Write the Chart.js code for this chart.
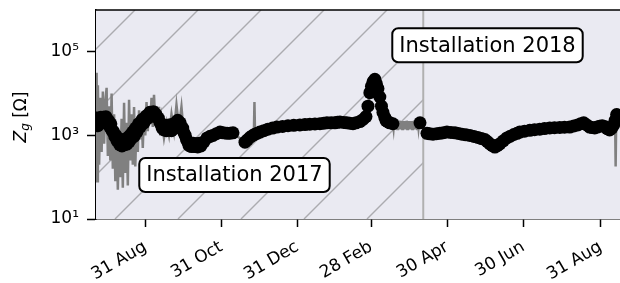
<!DOCTYPE html>
<html>
<head>
<meta charset="UTF-8">
<title>Grounding impedance</title>
<script src="https://cdn.jsdelivr.net/npm/chart.js@4.4.1/dist/chart.umd.min.js"></script>
<style>
  html, body { margin: 0; padding: 0; background: #fff; }
  #wrap { width: 620px; height: 283px; }
</style>
</head>
<body>
<div id="wrap"><canvas id="c" width="620" height="283"></canvas></div>
<script>
// days counted from 31 Aug 2017
const xTickDays = [0, 61, 122, 181, 242, 303, 365];
const xTickLabels = ['31 Aug', '31 Oct', '31 Dec', '28 Feb', '30 Apr', '30 Jun', '31 Aug'];
const yTickValues = [10, 1000, 100000];
const yTickLabels = ['10\u00b9', '10\u00b3', '10\u2075'];

// day of the 2018 installation (vertical line)
const install2018Day = 222.8;

// raw measurements (grey line)
const rawDays = [
  -39.5, -39, -38.5, -38, -37, -36, -35, -34, -33, -32, -31, -30, -29, -28, -27, -26,
  -25, -24, -23, -22, -21, -20, -19, -18, -17, -16, -15, -14, -13, -12, -11, -10,
  -9, -8, -7, -6, -5, -4, -3, -2, -1, 0, 1, 2, 3, 4, 5, 6, 7, 8, 9, 10, 11, 12, 13,
  15, 17, 19, 21, 23, 25, 27, 29, 31, 33, 35, 37, 40, 43, 46, 50, 55, 60, 65, 70,
  80, 84, 87, 87.5, 88, 92, 100, 110, 120, 130, 140, 150, 160, 167, 172, 176,
  178.5, 180, 182, 184, 186, 188, 190, 193, 196, 198.5,
  199, 199.5, 200, 200.5, 201, 201.5, 202, 202.5, 203, 203.5, 204, 204.5, 205, 205.5,
  206, 206.5, 207, 207.5, 208, 208.5, 209, 209.5, 210, 210.5, 211, 211.5, 212, 212.5,
  213, 213.5, 214, 214.5, 215, 215.5, 216, 216.5, 217, 217.5, 218, 218.5, 219, 219.5, 220,
  226, 235, 245, 255, 265, 272, 276, 280, 284, 290, 300, 310, 320, 330, 340, 347,
  351, 356, 364, 372, 375, 376.5, 377, 377.5, 378
];
const rawOhm = [
  2000, 31600, 80, 15800, 200, 7900, 400, 11200, 630, 6300, 13800, 320, 5000, 250, 10000, 160,
  3200, 80, 1600, 50, 1260, 100, 2500, 56, 6000, 126, 2000, 63, 7100, 250, 3200, 200,
  4800, 180, 2500, 400, 4000, 800, 3200, 500, 4000, 1000, 6300, 1260, 5000, 2000, 7900, 1600, 9300, 2000, 5000, 1600, 4800, 1000, 2500,
  870, 2000, 1000, 3200, 1260, 5400, 1600, 4800, 1000, 1260, 560, 800, 560, 700, 630, 890, 1000, 1200, 1120, 1150,
  690, 890, 1000, 6300, 1000, 1200, 1450, 1640, 1750, 1850, 1900, 2000, 2000, 1900, 2140, 2600,
  5000, 10500, 17800, 21000, 15000, 8300, 3800, 2240, 2000, 1900,
  1450, 2200, 1400, 2150, 1480, 2200, 1420, 2100, 1450, 2250, 1400, 2150, 1480, 2200,
  1420, 2100, 1450, 2200, 1400, 2150, 1480, 2250, 1420, 2100, 1450, 2200, 1400, 2150,
  1480, 2200, 1420, 2100, 1450, 2250, 1400, 2150, 1480, 2200, 1420, 2100, 1500, 2100, 2000,
  1120, 1110, 1180, 1050, 900, 800, 630, 525, 630, 870, 1200, 1340, 1460, 1540, 1580, 1780,
  2000, 1580, 1660, 1350, 1780, 3980, 180, 2800, 3160
];

// filtered values (black markers)
const filtDays = [
  -39.2, -38.7, -38, -37.2, -36.5, -35.6, -34.7, -33.8, -32.5, -31.6, -30.7, -29.6, -28.5, -27.6,
  -26.7, -25.6, -24.5, -23.6, -22.7, -21.6, -20.5, -19.6, -18.7, -17.6, -16.5, -15.6, -14.7, -13.8,
  -13, -12.2, -11.5, -10.2, -9, -7.8, -6.7, -5.4, -4, -2.5, -1, 0.6, 2.2, 3.8, 5.4, 6.5, 7.5, 8.5,
  9.4, 10.5, 11.8, 12.6, 13.5, 14.2, 15, 16, 17, 18, 19, 20, 21, 22, 23, 24, 25, 26, 27, 28, 29, 30,
  31, 32, 33, 34, 35, 36, 37, 38.5, 39.8, 41, 42, 43.3, 44.6,
  47, 49.5, 52, 54.3, 57, 59.9, 62.5, 65.5, 68, 70.3,
  79.9, 81.8, 83.8, 85.8, 87.9, 89.9, 91.9, 95, 98.3, 102, 105.5, 110, 114.4, 119, 123.9, 128, 131.9,
  136, 140, 143, 145.6, 149, 152, 154, 156, 159, 161.6, 164, 166.5, 169, 172, 174.5, 176.9, 178.5,
  180, 181.3, 182.5, 184, 185.3, 186.5, 188, 189.3, 190.5, 192, 193, 194.5, 196, 198.5,
  220.2,
  225.8, 228, 230.6, 233.5, 236.2, 239, 241.8, 245, 248.2, 251, 253.8, 257, 260.2, 263.5, 266.6, 269.5,
  272.2, 274.2, 276.2, 278.2, 280.2, 282.2, 284.2, 287, 289.8, 292.6, 295.4, 298, 300.2, 304, 308.2,
  312, 316.2, 320, 324.2, 328, 332.2, 336, 340.2, 343.5, 346.6, 349, 351.4, 353.8, 356.2, 358.2,
  360.2, 362.2, 364.2, 366.2, 368.2, 370.2, 372.2, 374, 375.4, 376.6, 377.8
];
const filtOhm = [
  1800, 2600, 1700, 2400, 1900, 2700, 2000, 2700, 2100, 2800, 2100, 2300, 1600, 1900,
  1300, 1250, 950, 1000, 750, 800, 600, 760, 560, 800, 600, 820, 620, 900,
  700, 1000, 820, 1200, 950, 1500, 1200, 1900, 1600, 2400, 2000, 2900, 2600, 3600, 3200, 3700, 3000, 3200,
  2700, 2600, 2000, 1900, 1500, 1800, 1350, 1700, 1300, 1750, 1400, 1800, 1300, 1750, 1450, 2000, 1650, 2300, 1800, 2000, 1450, 1500,
  1150, 1000, 800, 700, 580, 640, 540, 650, 540, 630, 530, 650, 560,
  700, 870, 950, 1000, 1100, 1200, 1150, 1120, 1130, 1150,
  690, 780, 890, 980, 1070, 1130, 1200, 1300, 1410, 1500, 1580, 1640, 1700, 1740, 1780, 1820, 1860,
  1880, 1900, 1950, 2000, 2000, 2000, 2050, 2090, 2040, 2000, 1950, 1900, 2000, 2140, 2400, 2820, 5000,
  10500, 15000, 19000, 22000, 17000, 13200, 8300, 5000, 3550, 2700, 2240, 2100, 2000, 1900,
  2000,
  1120, 1090, 1070, 1100, 1120, 1160, 1200, 1180, 1150, 1110, 1070, 1030, 1000, 940, 890, 840,
  795, 710, 630, 570, 525, 570, 630, 740, 870, 960, 1050, 1120, 1200, 1260, 1320,
  1370, 1410, 1460, 1510, 1530, 1550, 1570, 1580, 1680, 1780, 1900, 2000, 1780, 1580, 1540,
  1510, 1580, 1660, 1700, 1640, 1450, 1350, 1500, 1780, 2300, 3160
];

const notes = [
  { text: 'Installation 2017', day: 71.5, ohm: 113 },
  { text: 'Installation 2018', day: 274.3, ohm: 143000 }
];

const rawPoints = rawDays.map((d, i) => ({ x: d, y: rawOhm[i] }));
const filtPoints = filtDays.map((d, i) => ({ x: d, y: filtOhm[i] }));

const FONT = 'DejaVu Sans';

// background, hatching, vertical line, top spine, labels
const decor = {
  id: 'decor',
  beforeDatasetsDraw(chart) {
    const { ctx, chartArea: a, scales } = chart;
    const vx = scales.x.getPixelForValue(install2018Day);
    ctx.save();
    ctx.fillStyle = '#eaeaf2';
    ctx.fillRect(a.left, a.top, a.right - a.left, a.bottom - a.top);

    // hatched 2017 period
    ctx.beginPath();
    ctx.rect(a.left, a.top, vx - a.left, a.bottom - a.top);
    ctx.clip();
    ctx.strokeStyle = '#ababb0';
    ctx.lineWidth = 1.4;
    const h = a.bottom - a.top;
    for (let x0 = a.left + 19 - 63 * 6; x0 < vx + 63; x0 += 63) {
      ctx.beginPath();
      ctx.moveTo(x0, a.bottom);
      ctx.lineTo(x0 + h, a.top);
      ctx.stroke();
    }
    ctx.restore();

    ctx.save();
    ctx.strokeStyle = '#b0b0b0';
    ctx.lineWidth = 2;
    ctx.beginPath();
    ctx.moveTo(vx, a.top);
    ctx.lineTo(vx, a.bottom);
    ctx.stroke();
    ctx.restore();
  },
  afterDatasetsDraw(chart) {
    const { ctx, chartArea: a, scales } = chart;
    ctx.save();
    ctx.strokeStyle = '#000';
    ctx.lineWidth = 1.5;
    ctx.beginPath();
    ctx.moveTo(a.left, a.top);
    ctx.lineTo(a.right, a.top);
    ctx.stroke();

    // text boxes
    ctx.font = '21px "' + FONT + '"';
    ctx.textAlign = 'center';
    ctx.textBaseline = 'middle';
    notes.forEach(n => {
      const cx = scales.x.getPixelForValue(n.day);
      const cy = scales.y.getPixelForValue(n.ohm);
      const w = ctx.measureText(n.text).width + 14;
      const bh = 34;
      ctx.beginPath();
      ctx.roundRect(cx - w / 2, cy - bh / 2, w, bh, 6);
      ctx.fillStyle = '#fff';
      ctx.fill();
      ctx.lineWidth = 2;
      ctx.strokeStyle = '#000';
      ctx.stroke();
      ctx.fillStyle = '#000';
      ctx.fillText(n.text, cx, cy + 1);
    });

    // y axis title: Z_g [Ω]
    ctx.translate(20, 117);
    ctx.rotate(-Math.PI / 2);
    ctx.textAlign = 'left';
    ctx.textBaseline = 'alphabetic';
    const big = 'italic 17px "' + FONT + '"';
    const small = 'italic 12px "' + FONT + '"';
    const reg = '17px "' + FONT + '"';
    ctx.font = big; const wZ = ctx.measureText('Z').width;
    ctx.font = small; const wg = ctx.measureText('g').width;
    ctx.font = reg; const wR = ctx.measureText(' [\u03a9]').width;
    let x = -(wZ + wg + wR) / 2;
    const base = 6;
    ctx.fillStyle = '#000';
    ctx.font = big; ctx.fillText('Z', x, base); x += wZ;
    ctx.font = small; ctx.fillText('g', x, base + 3); x += wg;
    ctx.font = reg; ctx.fillText(' [\u03a9]', x, base);
    ctx.restore();
  }
};

new Chart(document.getElementById('c'), {
  type: 'scatter',
  data: {
    datasets: [
      {
        label: 'filtered',
        data: filtPoints,
        showLine: false,
        pointRadius: 6.5,
        pointBackgroundColor: '#000',
        pointBorderWidth: 0
      },
      {
        label: 'raw',
        data: rawPoints,
        showLine: true,
        borderColor: '#808080',
        borderWidth: 2.5,
        pointRadius: 0,
        tension: 0
      }
    ]
  },
  options: {
    responsive: false,
    animation: false,
    devicePixelRatio: 1,
    layout: { autoPadding: false, padding: { top: 10, right: 0, left: 0, bottom: 0 } },
    plugins: { legend: { display: false }, tooltip: { enabled: false } },
    scales: {
      x: {
        type: 'linear',
        min: -39.5,
        max: 380.5,
        afterBuildTicks: s => { s.ticks = xTickDays.map(v => ({ value: v })); },
        afterFit: s => { s.height = 64; s.paddingRight = 0; },
        grid: { display: true, drawOnChartArea: false, drawTicks: true, tickLength: 8, tickColor: '#000', tickWidth: 1.5 },
        border: { display: true, color: '#000', width: 1.5 },
        ticks: {
          autoSkip: false, minRotation: 30, maxRotation: 30, padding: 10,
          color: '#000', font: { family: FONT, size: 17 },
          callback: (v, i) => xTickLabels[i]
        }
      },
      y: {
        type: 'logarithmic',
        min: 10,
        max: 1e6,
        afterBuildTicks: s => { s.ticks = yTickValues.map(v => ({ value: v })); },
        afterFit: s => { s.width = 96; s.paddingTop = 0; s.paddingBottom = 0; },
        grid: { display: true, drawOnChartArea: false, drawTicks: true, tickLength: 9, tickColor: '#000', tickWidth: 1.5 },
        border: { display: true, color: '#000', width: 1.5 },
        ticks: {
          padding: 8,
          color: '#000', font: { family: FONT, size: 17 },
          callback: (v, i) => yTickLabels[i]
        }
      }
    }
  },
  plugins: [decor]
});
</script>
</body>
</html>
